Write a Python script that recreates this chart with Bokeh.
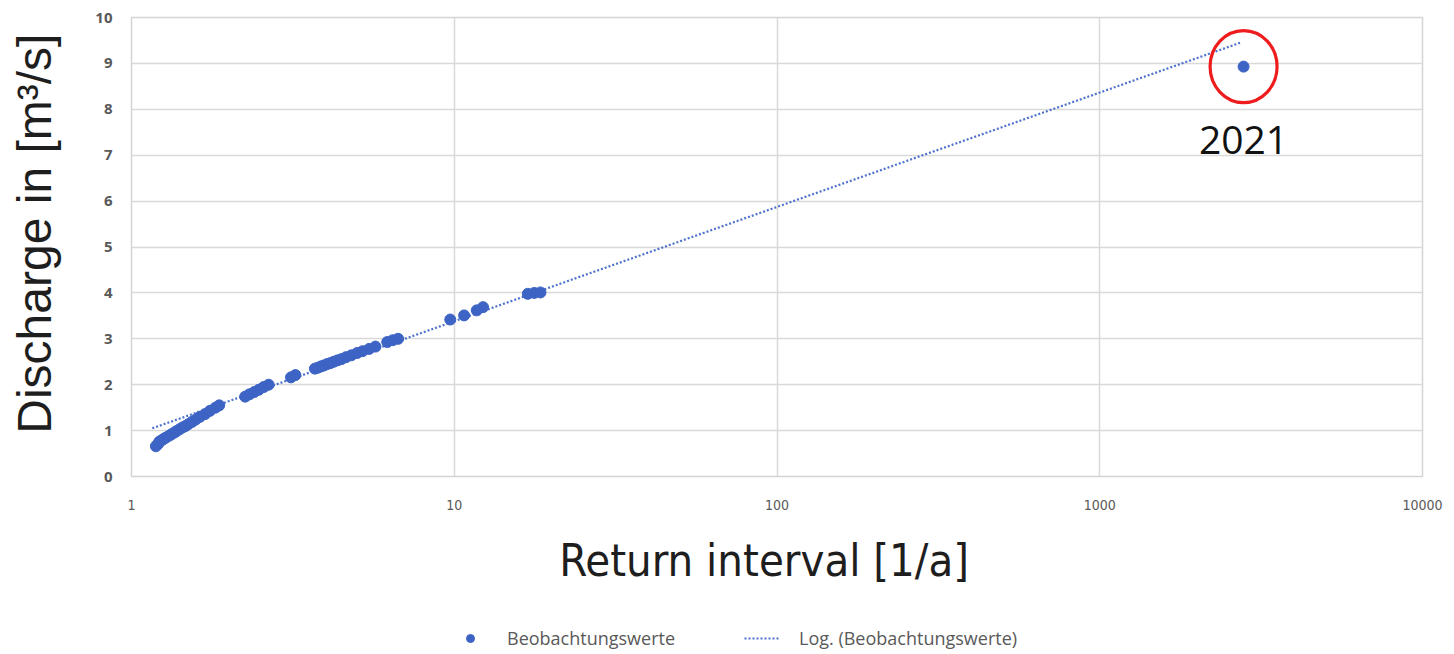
from bokeh.plotting import figure
from bokeh.layouts import column
from bokeh.models import FixedTicker, CustomJSTickFormatter, Legend, LegendItem, Range1d
from bokeh.embed import file_html
from bokeh.resources import INLINE
from bokeh.core.properties import value

# ---- data ----
return_interval = [
    1.19, 1.21,
    1.22, 1.24, 1.26, 1.28, 1.31, 1.33, 1.36, 1.38, 1.41, 1.44, 1.47, 1.50,
    1.54, 1.58, 1.63, 1.69, 1.75, 1.82, 1.87,
    2.25, 2.32, 2.40, 2.48, 2.57, 2.66,
    3.12, 3.22,
    3.70, 3.78, 3.87, 3.95, 4.04, 4.13, 4.23, 4.35, 4.48, 4.62, 4.80, 5.00,
    5.20, 5.45, 5.70,
    6.20, 6.45, 6.70,
    9.72, 10.73, 11.74, 12.28,
    16.9, 17.7, 18.5,
    2790,
]
discharge = [
    0.66, 0.71,
    0.76, 0.79, 0.82, 0.85, 0.89, 0.92, 0.96, 0.99, 1.03, 1.07, 1.10, 1.14,
    1.19, 1.24, 1.30, 1.36, 1.43, 1.50, 1.55,
    1.74, 1.79, 1.84, 1.89, 1.95, 2.00,
    2.16, 2.21,
    2.35, 2.37, 2.40, 2.42, 2.45, 2.47, 2.50, 2.53, 2.56, 2.60, 2.64, 2.69,
    2.73, 2.78, 2.83,
    2.93, 2.97, 3.00,
    3.42, 3.51, 3.62, 3.69,
    3.98, 4.00, 4.01,
    8.93,
]
trend_x = [1.16, 2750]
trend_y = [1.05, 9.46]
highlight_x = [2790]
highlight_y = [8.93]
highlight_label = ["2021"]
x_ticks = [1, 10, 100, 1000, 10000]
y_ticks = list(range(0, 11))

series_name = "Beobachtungswerte"
trend_name = "Log. (Beobachtungswerte)"
x_title = "Return interval [1/a]"
y_title = "Discharge in [m³/s]"

blue = "#3D64C5"
trend_color = "#4C72CC"
nbsp = "\u00a0"

# ---- main figure ----
p = figure(
    width=1454, height=624,
    x_axis_type="log", x_range=(1, 10000), y_range=(0, 10),
    output_backend="svg", toolbar_location=None,
    min_border_left=131, min_border_right=32,
    min_border_top=17, min_border_bottom=148,
)
p.background_fill_color = "white"
p.border_fill_color = "white"
p.outline_line_color = "#d4d4d4"
p.outline_line_width = 1.5

p.line(trend_x, trend_y, line_color=trend_color, line_width=2.2, line_dash="2 2")
p.scatter(return_interval, discharge, size=11, fill_color=blue, line_color=blue)

p.ellipse(x=highlight_x, y=highlight_y, width=67, height=72,
          width_units="screen", height_units="screen",
          fill_alpha=0, line_color="#EE1C1C", line_width=3.2)
p.text(x=highlight_x, y=highlight_y, text=highlight_label, y_offset=73,
       text_align="center", text_baseline="middle",
       text_font=value("Open Sans"), text_font_size="39px",
       text_color="#111111")

# grids
p.xgrid.ticker = FixedTicker(ticks=x_ticks)
p.ygrid.ticker = FixedTicker(ticks=y_ticks)
for g in (p.xgrid, p.ygrid):
    g.grid_line_color = "#d9d9d9"
    g.grid_line_width = 1.5
p.xgrid.minor_grid_line_color = None

# axes
for ax in (p.xaxis, p.yaxis):
    ax.axis_line_color = None
    ax.major_tick_line_color = None
    ax.minor_tick_line_color = None
    ax.major_label_text_color = "#595959"
    ax.axis_label_text_color = "#1e1e1e"
    ax.axis_label_text_font_style = "normal"

narrow = "DejaVu Sans Condensed, Liberation Sans"
p.xaxis.ticker = FixedTicker(ticks=x_ticks)
p.xaxis.formatter = CustomJSTickFormatter(code="return tick.toFixed(0)")
p.xaxis.major_label_text_font = narrow
p.xaxis.major_label_text_font_size = "14px"
p.xaxis.major_label_standoff = 17
# trailing no-break spaces nudge the centred title a little to the left
p.xaxis.axis_label = x_title + nbsp * 2
p.xaxis.axis_label_text_font = narrow
p.xaxis.axis_label_text_font_size = "45px"
p.xaxis.axis_label_standoff = 21

p.yaxis.ticker = FixedTicker(ticks=y_ticks)
p.yaxis.major_label_text_font = "Open Sans"
p.yaxis.major_label_text_font_style = "bold"
p.yaxis.major_label_text_font_size = "15px"
p.yaxis.major_label_standoff = 13
# leading no-break spaces nudge the centred title a little upwards
p.yaxis.axis_label = nbsp * 2 + y_title
p.yaxis.axis_label_text_font = "Liberation Sans"
p.yaxis.axis_label_text_font_size = "48px"
p.yaxis.axis_label_standoff = 31

# ---- legend strip (own small figure; its glyphs lie outside its ranges) ----
leg = figure(
    width=1454, height=30,
    x_range=Range1d(-2, -1), y_range=Range1d(-2, -1),
    output_backend="svg", toolbar_location=None,
    x_axis_location=None, y_axis_location=None,
    min_border=0,
)
leg.outline_line_color = None
leg.grid.visible = False
leg_trend = leg.line(trend_x, trend_y, line_color=trend_color, line_width=2.2,
                     line_dash="2 2")
leg_pts = leg.scatter(return_interval, discharge, size=11, fill_color=blue,
                      line_color=blue)
legend = Legend(
    items=[LegendItem(label=series_name, renderers=[leg_pts]),
           LegendItem(label=trend_name, renderers=[leg_trend])],
    orientation="horizontal",
    location=(321, 4),
    padding=0, margin=0,
    glyph_width=36, glyph_height=20,
    label_standoff=19, spacing=69,
    label_text_font="Open Sans", label_text_font_size="18px",
    label_text_color="#595959",
    border_line_color=None, background_fill_alpha=0,
)
leg.add_layout(legend, "center")

layout = column(p, leg, spacing=0)
open("out.html", "w").write(file_html(layout, INLINE))
